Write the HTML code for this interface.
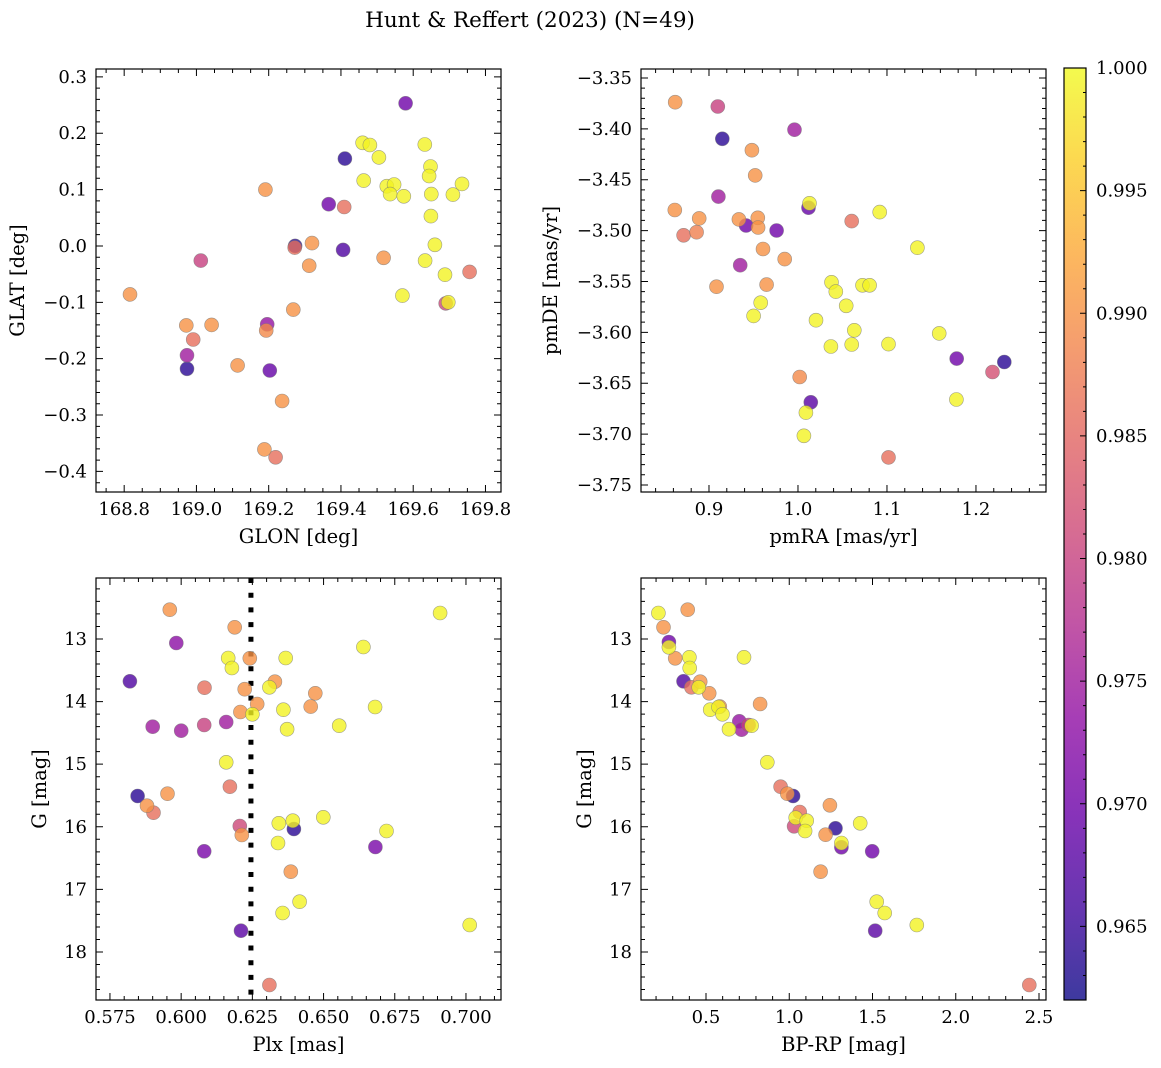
<!DOCTYPE html>
<html><head><meta charset="utf-8">
<style>
html,body{margin:0;padding:0;background:#fff;}
svg{display:block;font-family:"DejaVu Serif","Liberation Serif",serif;}
</style></head>
<body>
<svg id="fig" width="1161" height="1068" viewBox="0 0 1161 1068" xmlns="http://www.w3.org/2000/svg">
<defs>
<linearGradient id="plasma" x1="0" y1="1" x2="0" y2="0">
<stop offset="0" stop-color="#0d0887"/><stop offset="0.1" stop-color="#41049d"/><stop offset="0.2" stop-color="#6a00a8"/><stop offset="0.3" stop-color="#8f0da4"/><stop offset="0.4" stop-color="#b12a90"/><stop offset="0.5" stop-color="#cc4778"/><stop offset="0.6" stop-color="#e16462"/><stop offset="0.7" stop-color="#f2844b"/><stop offset="0.8" stop-color="#fca636"/><stop offset="0.9" stop-color="#fcce25"/><stop offset="1" stop-color="#f0f921"/>
</linearGradient>
</defs>
<text x="530" y="27" font-size="21.5" text-anchor="middle">Hunt &amp; Reffert (2023) (N=49)</text>
</svg>
<script>
// ---- data ----
const glon=[169.579,169.460,169.480,169.632,169.411,169.505,169.648,169.644,169.463,169.191,169.527,169.547,169.536,169.574,169.650,169.710,169.735,169.366,169.409,169.649,169.273,169.272,169.320,169.406,169.660,169.012,169.518,169.633,169.312,169.688,169.756,168.816,169.570,169.690,169.697,169.268,168.972,169.042,169.196,169.193,168.991,168.974,168.974,169.114,169.203,169.237,169.188,169.219];
const glat=[0.253,0.183,0.179,0.180,0.155,0.157,0.141,0.124,0.116,0.100,0.106,0.109,0.092,0.088,0.092,0.091,0.110,0.074,0.069,0.053,0.000,-0.003,0.005,-0.007,0.002,-0.026,-0.021,-0.026,-0.035,-0.051,-0.046,-0.086,-0.088,-0.102,-0.100,-0.113,-0.141,-0.140,-0.139,-0.150,-0.166,-0.194,-0.218,-0.212,-0.221,-0.275,-0.361,-0.375];
const probPos=[0.970,0.9995,0.9995,0.9995,0.964,0.9995,0.9995,0.9995,0.9995,0.990,0.9995,0.9995,0.9995,0.9995,0.9995,0.9995,0.9995,0.970,0.986,0.9995,0.964,0.986,0.990,0.967,0.9995,0.980,0.990,0.9995,0.990,0.9995,0.986,0.990,0.9995,0.981,0.9995,0.990,0.990,0.990,0.974,0.989,0.986,0.975,0.964,0.990,0.969,0.990,0.990,0.986];

const pmra=[0.862,0.9099,0.915,0.9961,0.9482,0.9519,0.9106,1.0118,1.0129,0.8616,1.0918,0.889,0.9336,0.9548,0.9417,0.9552,0.976,1.0604,0.8715,0.8861,0.9607,1.1342,0.9851,0.9351,0.9084,0.9647,1.0377,1.0425,1.0725,1.0805,0.9581,1.0542,0.9501,1.0202,1.0633,1.1587,1.0370,1.0604,1.1017,1.1784,1.2318,1.2186,1.0019,1.0144,1.0089,1.1780,1.0067,1.1017];
const pmde=[-3.3738,-3.3781,-3.4098,-3.4009,-3.4210,-3.4458,-3.4666,-3.4775,-3.4732,-3.4798,-3.4818,-3.4880,-3.4890,-3.4874,-3.4950,-3.4970,-3.4999,-3.4907,-3.5046,-3.5016,-3.5181,-3.5168,-3.5280,-3.5340,-3.5551,-3.5531,-3.5508,-3.5600,-3.5538,-3.5538,-3.5709,-3.5739,-3.5838,-3.5881,-3.5980,-3.6010,-3.6139,-3.6119,-3.6116,-3.6258,-3.6291,-3.6390,-3.6439,-3.6687,-3.6789,-3.6660,-3.7017,-3.7229];
const probPm=[0.990,0.980,0.964,0.975,0.990,0.990,0.975,0.969,0.9995,0.990,0.9995,0.990,0.990,0.990,0.970,0.990,0.970,0.986,0.986,0.988,0.990,0.9995,0.990,0.975,0.990,0.990,0.9995,0.9995,0.9995,0.9995,0.9995,0.9995,0.9995,0.9995,0.9995,0.9995,0.9995,0.9995,0.9995,0.970,0.964,0.982,0.989,0.968,0.9995,0.9995,0.9995,0.986];

const plx=[0.5960,0.6188,0.5983,0.6165,0.6241,0.6367,0.6178,0.5820,0.6329,0.6082,0.6223,0.6310,0.6471,0.6267,0.6455,0.6359,0.6681,0.6208,0.6250,0.5900,0.6000,0.6081,0.6158,0.6372,0.6555,0.6640,0.6909,0.6158,0.6171,0.5847,0.5952,0.5880,0.5903,0.6206,0.6213,0.6343,0.6392,0.6396,0.6499,0.6721,0.6340,0.6081,0.6682,0.6385,0.6416,0.6356,0.6210,0.7013,0.6310];
const gPlx=[12.532,12.813,13.064,13.304,13.308,13.304,13.463,13.676,13.682,13.778,13.803,13.772,13.867,14.038,14.081,14.129,14.086,14.166,14.203,14.401,14.465,14.374,14.326,14.442,14.385,13.128,12.585,14.970,15.359,15.508,15.471,15.663,15.775,15.987,16.131,15.944,15.903,16.035,15.848,16.067,16.259,16.391,16.323,16.717,17.196,17.377,17.660,17.569,18.527];
const probPlx=[0.990,0.990,0.973,0.9995,0.990,0.9995,0.9995,0.967,0.990,0.986,0.990,0.9995,0.990,0.990,0.990,0.9995,0.9995,0.990,0.9995,0.975,0.975,0.980,0.975,0.9995,0.9995,0.9995,0.9995,0.9995,0.986,0.964,0.990,0.990,0.986,0.981,0.990,0.9995,0.9995,0.964,0.9995,0.9995,0.9995,0.971,0.971,0.990,0.9995,0.9995,0.968,0.9995,0.986];
const plxCut=0.6245;

const bprp=[0.214,0.390,0.245,0.277,0.277,0.315,0.400,0.402,0.728,0.365,0.465,0.412,0.456,0.519,0.825,0.583,0.525,0.575,0.599,0.700,0.714,0.756,0.774,0.638,0.868,0.948,1.023,0.988,1.063,1.039,1.105,1.029,1.095,1.244,1.278,1.218,1.313,1.313,1.426,1.498,1.188,1.525,1.573,1.516,1.766,2.442];
const gCmd=[12.585,12.532,12.813,13.048,13.133,13.308,13.292,13.463,13.292,13.676,13.682,13.772,13.772,13.867,14.038,14.081,14.129,14.086,14.203,14.315,14.449,14.374,14.385,14.442,14.970,15.359,15.508,15.471,15.764,15.855,15.903,15.992,16.067,15.657,16.024,16.126,16.327,16.259,15.944,16.391,16.717,17.196,17.377,17.660,17.569,18.527];
const probCmd=[0.9995,0.990,0.990,0.970,0.9995,0.990,0.9995,0.9995,0.9995,0.967,0.990,0.986,0.9995,0.990,0.990,0.990,0.9995,0.9995,0.9995,0.974,0.975,0.980,0.9995,0.9995,0.9995,0.986,0.964,0.990,0.986,0.9995,0.9995,0.981,0.9995,0.990,0.964,0.990,0.970,0.9995,0.9995,0.970,0.990,0.9995,0.9995,0.968,0.9995,0.986];

const cbarTicks=[0.965,0.970,0.975,0.980,0.985,0.990,0.995,1.000];
const cMin=0.962, cMax=1.000;

// ---- rendering ----
const NS="http://www.w3.org/2000/svg";
const svg=document.getElementById('fig');
const TF=18, LF=19.5;
function mk(tag,attrs,parent){const e=document.createElementNS(NS,tag);for(const k in attrs)e.setAttribute(k,attrs[k]);(parent||svg).appendChild(e);return e;}
const stops=[[13,8,135],[65,4,157],[106,0,168],[143,13,164],[177,42,144],[204,71,120],[225,100,98],[242,132,75],[252,166,54],[252,206,37],[240,249,33]];
function cmap(v){let t=(v-cMin)/(cMax-cMin);t=Math.max(0,Math.min(1,t));const f=t*10,i=Math.min(9,Math.floor(f)),r=f-i;const a=stops[i],b=stops[i+1];return 'rgb('+a.map((c,k)=>Math.round(c+(b[k]-c)*r)).join(',')+')';}
function fmt(v,d){const s=Math.abs(v).toFixed(d);return (v<-1e-9?'\u2212':'')+s;}
function range(a,b,s){const r=[];for(let v=a;v<=b+s*1e-6;v+=s)r.push(+v.toFixed(6));return r;}

function panel(o){
  const g=mk('g',{});
  
  
  const X=v=>o.x0+(v-o.xmin)/(o.xmax-o.xmin)*(o.x1-o.x0);
  const Y=o.invert? v=>o.y0+(v-o.ymin)/(o.ymax-o.ymin)*(o.y1-o.y0) : v=>o.y1-(v-o.ymin)/(o.ymax-o.ymin)*(o.y1-o.y0);
  if(o.vline!==undefined){const l=mk('line',{x1:X(o.vline),x2:X(o.vline),y1:o.y0,y2:o.y1,stroke:'#000','stroke-width':5,'stroke-dasharray':'5 9.7'},g);
    
    }
  const pts=o.xs.map((x,i)=>i).sort((a,b)=>o.cs[a]-o.cs[b]);
  pts.forEach(i=>{
    const c=mk('circle',{cx:X(o.xs[i]).toFixed(1),cy:Y(o.ys[i]).toFixed(1),r:7,fill:cmap(o.cs[i]),'fill-opacity':0.8,stroke:'#777','stroke-opacity':0.7,'stroke-width':0.6},g);
    
    
  });
  const fr=mk('rect',{x:o.x0,y:o.y0,width:o.x1-o.x0,height:o.y1-o.y0,fill:'none',stroke:'#000','stroke-width':1.2},g);
  
  
  let d='';
  range(o.xminor0,o.xmax,o.xminor).forEach(v=>{if(v<o.xmin)return;const x=X(v);d+=`M${x},${o.y1}v-4M${x},${o.y0}v4`;});
  range(o.yminor0,o.ymax,o.yminor).forEach(v=>{if(v<o.ymin)return;const y=Y(v);d+=`M${o.x0},${y}h4M${o.x1},${y}h-4`;});
  o.xt.forEach(v=>{const x=X(v);d+=`M${x},${o.y1}v-7M${x},${o.y0}v7`;
    const t=mk('text',{x:x,y:o.y1+23,'font-size':TF,'text-anchor':'middle'},g);t.textContent=fmt(v,o.xd);
    
    });
  o.yt.forEach(v=>{const y=Y(v);d+=`M${o.x0},${y}h7M${o.x1},${y}h-7`;
    const t=mk('text',{x:o.x0-9,y:y+6,'font-size':TF,'text-anchor':'end'},g);t.textContent=fmt(v,o.yd);
    
    });
  const tp=mk('path',{d:d,stroke:'#000','stroke-width':1,fill:'none'},g);
  
  
  const xl=mk('text',{x:(o.x0+o.x1)/2,y:o.y1+51,'font-size':LF,'text-anchor':'middle'},g);xl.textContent=o.xlabel;
  
  
  const cy=(o.y0+o.y1)/2;
  const yl=mk('text',{x:o.ylx,y:cy,'font-size':LF,'text-anchor':'middle',transform:`rotate(-90 ${o.ylx} ${cy})`},g);yl.textContent=o.ylabel;
  
  
}

panel({name:'glon-glat-panel',x0:96,x1:501,y0:69,y1:492,xmin:168.722,xmax:169.843,ymin:-0.4365,ymax:0.3139,
  xs:glon,ys:glat,cs:probPos,xt:range(168.8,169.8,0.2),yt:range(-0.4,0.3,0.1),xd:1,yd:1,
  xminor0:168.75,xminor:0.05,yminor0:-0.42,yminor:0.02,xlabel:'GLON [deg]',ylabel:'GLAT [deg]',ylx:24});
panel({name:'proper-motion-panel',x0:641,x1:1046,y0:69,y1:492,xmin:0.8236,xmax:1.2787,ymin:-3.7569,ymax:-3.3412,
  xs:pmra,ys:pmde,cs:probPm,xt:range(0.9,1.2,0.1),yt:range(-3.75,-3.35,0.05),xd:1,yd:2,
  xminor0:0.84,xminor:0.02,yminor0:-3.75,yminor:0.01,xlabel:'pmRA [mas/yr]',ylabel:'pmDE [mas/yr]',ylx:557});
panel({name:'parallax-magnitude-panel',x0:96,x1:501,y0:578,y1:1000,xmin:0.5701,xmax:0.7123,ymin:12.026,ymax:18.767,invert:true,vline:plxCut,
  xs:plx,ys:gPlx,cs:probPlx,xt:range(0.575,0.7,0.025),yt:range(13,18,1),xd:3,yd:0,
  xminor0:0.575,xminor:0.005,yminor0:12.2,yminor:0.2,xlabel:'Plx [mas]',ylabel:'G [mag]',ylx:46});
panel({name:'color-magnitude-panel',x0:641,x1:1046,y0:578,y1:1000,xmin:0.1096,xmax:2.542,ymin:12.026,ymax:18.767,invert:true,
  xs:bprp,ys:gCmd,cs:probCmd,xt:range(0.5,2.5,0.5),yt:range(13,18,1),xd:1,yd:0,
  xminor0:0.2,xminor:0.1,yminor0:12.2,yminor:0.2,xlabel:'BP-RP [mag]',ylabel:'G [mag]',ylx:591});

(function(){
  const x0=1064,x1=1086,y0=68,y1=1000;
  const g=mk('g',{});
  
  
  const r=mk('rect',{x:x0,y:y0,width:x1-x0,height:y1-y0,fill:'url(#plasma)','fill-opacity':0.8},g);
  
  
  mk('rect',{x:x0,y:y0,width:x1-x0,height:y1-y0,fill:'none',stroke:'#000','stroke-width':1.2},g);
  const Y=v=>y1-(v-cMin)/(cMax-cMin)*(y1-y0);
  let d='';
  range(0.962,1.0,0.001).forEach(v=>{d+=`M${x1},${Y(v)}h-3`;});
  cbarTicks.forEach(v=>{const y=Y(v);d+=`M${x1},${y}h-6`;
    const t=mk('text',{x:x1+10,y:y+6,'font-size':TF},g);t.textContent=v.toFixed(3);
    
    });
  mk('path',{d:d,stroke:'#000','stroke-width':1},g);
})();
</script>
</body></html>
